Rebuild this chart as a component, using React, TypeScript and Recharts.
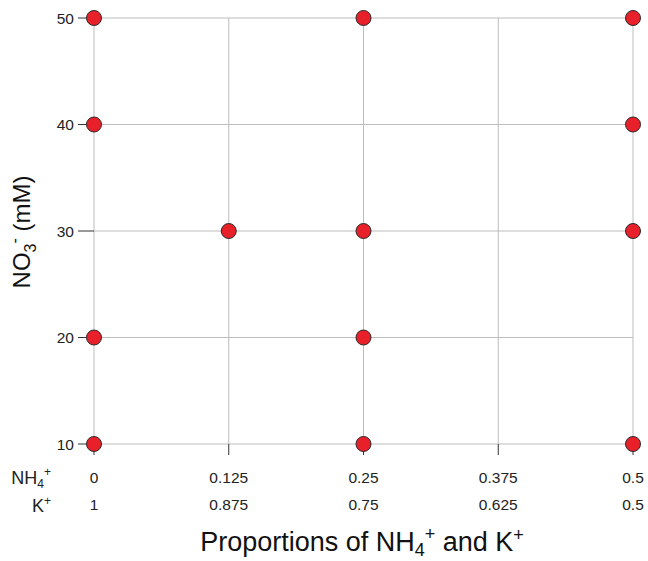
import { ScatterChart, Scatter, XAxis, YAxis, CartesianGrid } from "recharts";

const nh4Values = [0, 0.25, 0.5, 0, 0.5, 0.125, 0.25, 0.5, 0, 0.25, 0, 0.25, 0.5];
const no3Values = [50, 50, 50, 40, 40, 30, 30, 30, 20, 20, 10, 10, 10];

const nh4Ticks = [0, 0.125, 0.25, 0.375, 0.5];
const nh4TickLabels = ["0", "0.125", "0.25", "0.375", "0.5"];
const kTickLabels = ["1", "0.875", "0.75", "0.625", "0.5"];
const no3Ticks = [10, 20, 30, 40, 50];

const points = nh4Values.map((x, i) => ({ x, y: no3Values[i] }));

const font = "'Liberation Sans', Arial, sans-serif";

const Dot = (props: any) => (
  <circle cx={props.cx} cy={props.cy} r={7.5} fill="#e8202a" stroke="#2a2a2a" strokeWidth={1} />
);

const XTick = (props: any) => {
  const { x, index } = props;
  return (
    <g fontFamily={font} fill="#222">
      <text x={x} y={483} textAnchor="middle" fontSize={15.5}>{nh4TickLabels[index]}</text>
      <text x={x} y={510} textAnchor="middle" fontSize={15.5}>{kTickLabels[index]}</text>
      {index === 0 && (
        <g fontSize={18}>
          <text x={x - 43} y={484} textAnchor="end">
            NH<tspan fontSize={12} dy={4}>4</tspan>
            <tspan fontSize={12} dy={-12}>+</tspan>
          </text>
          <text x={x - 43} y={512} textAnchor="end">
            K<tspan fontSize={12} dy={-7}>+</tspan>
          </text>
        </g>
      )}
    </g>
  );
};

export default function App() {
  return (
    <div style={{ position: "absolute", left: 0, top: 0, background: "#fff" }}>
      <ScatterChart width={648} height={561} margin={{ top: 18, right: 15, bottom: 57, left: 54 }}>
        <CartesianGrid stroke="#bdbdbd" strokeWidth={1} />
        <XAxis
          type="number"
          dataKey="x"
          domain={[0, 0.5]}
          ticks={nh4Ticks}
          interval={0}
          height={60}
          axisLine={false}
          tickSize={11}
          tickLine={{ stroke: "#333" }}
          tick={<XTick />}
          label={{
            content: () => (
              <text x={362} y={551} textAnchor="middle" fontFamily={font} fontSize={27} fill="#111">
                Proportions of NH<tspan fontSize={18} dy={5}>4</tspan>
                <tspan fontSize={18} dy={-16}>+</tspan>
                <tspan dy={11}> and K</tspan>
                <tspan fontSize={18} dy={-10}>+</tspan>
              </text>
            ),
          }}
        />
        <YAxis
          type="number"
          dataKey="y"
          domain={[10, 50]}
          ticks={no3Ticks}
          interval={0}
          width={40}
          axisLine={false}
          tickSize={16}
          tickMargin={4}
          tickLine={{ stroke: "#333" }}
          tick={{ fill: "#222", fontSize: 15.5, fontFamily: font }}
          label={{
            content: () => (
              <text
                transform="translate(30,232) rotate(-90)"
                textAnchor="middle"
                fontFamily={font}
                fontSize={24}
                fill="#111"
              >
                NO<tspan fontSize={16} dy={6}>3</tspan>
                <tspan fontSize={16} dy={-16}>-</tspan>
                <tspan dy={10}> (mM)</tspan>
              </text>
            ),
          }}
        />
        <Scatter data={points} shape={<Dot />} isAnimationActive={false} />
      </ScatterChart>
    </div>
  );
}
